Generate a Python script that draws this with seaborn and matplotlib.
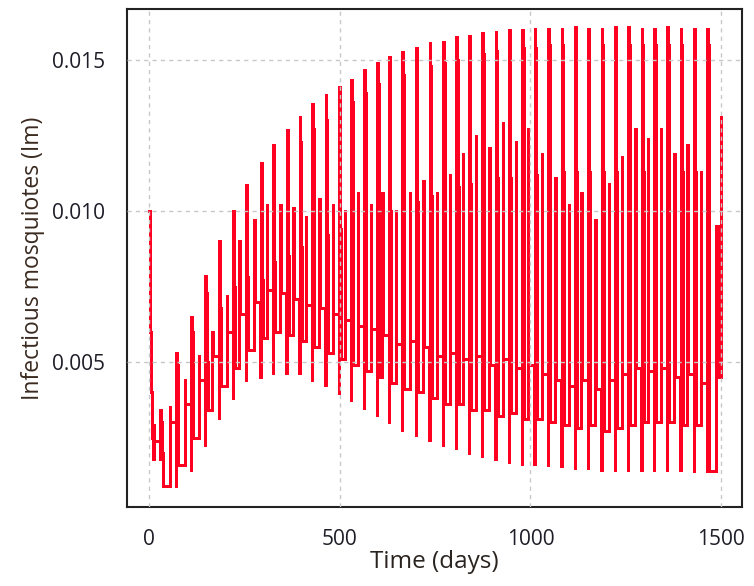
import numpy as np
import pandas as pd
import matplotlib
matplotlib.use("Agg")
import matplotlib.pyplot as plt
import seaborn as sns

# ---- data ----
# initial decay from Im(0)=0.010
start_day = [0, 2, 5, 8, 11]
start_val = [0.0100, 0.0060, 0.0040, 0.0025, 0.0018]

# one entry per oscillation cycle (day of the high peak)
cycle_day = [33, 74, 113, 151, 186, 223, 257, 296, 328, 364, 398, 431, 466, 501,
             533, 567, 601, 632, 667, 703, 739, 774, 809, 842, 877, 912, 947, 982,
             1014, 1050, 1085, 1120, 1154, 1190, 1225, 1260, 1295, 1328, 1362, 1397,
             1432, 1467]
# secondary (thin) peak just before each high peak
mid_peak = [0.0029, 0.0035, 0.0044, 0.0052, 0.0060, 0.0072, 0.0090, 0.0097, 0.0102,
            0.0102, 0.0101, 0.0098, 0.0104, 0.0102, 0.0100, 0.0106, 0.0102, 0.0106,
            0.0100, 0.0106, 0.0110, 0.0106, 0.0112, 0.0119, 0.0125, 0.0121, 0.0129,
            0.0123, 0.0127, 0.0119, 0.0111, 0.0102, 0.0106, 0.0097, 0.0109, 0.0118,
            0.0127, 0.0124, 0.0127, 0.0119, 0.0122, 0.0113]
# level after the secondary peak
dip = [0.0024, 0.0030, 0.0036, 0.0044, 0.0052, 0.0060, 0.0066, 0.0070, 0.0074, 0.0073,
       0.0071, 0.0069, 0.0068, 0.0066, 0.0064, 0.0062, 0.0061, 0.0059, 0.0056, 0.0057,
       0.0055, 0.0052, 0.0053, 0.0051, 0.0052, 0.0049, 0.0051, 0.0048, 0.0049, 0.0046,
       0.0044, 0.0042, 0.0044, 0.0041, 0.0044, 0.0046, 0.0048, 0.0047, 0.0048, 0.0045,
       0.0046, 0.0043]
# trough reached just before each high peak
trough = [0.0018, 0.0009, 0.00142, 0.00225, 0.00315, 0.0038, 0.0044, 0.0045, 0.00463,
          0.00463, 0.00463, 0.0044, 0.00424, 0.00396, 0.00374, 0.00347, 0.00325, 0.00302,
          0.00275, 0.00258, 0.00242, 0.00225, 0.00215, 0.00199, 0.00189, 0.00179, 0.0017,
          0.00164, 0.00164, 0.00159, 0.00155, 0.00149, 0.00149, 0.00142, 0.00142, 0.00142,
          0.00142, 0.00142, 0.00142, 0.00142, 0.0014, 0.0014]
peak = [0.0034, 0.0053, 0.0065, 0.00785, 0.0090, 0.0100, 0.01086, 0.01158, 0.01219,
        0.01268, 0.01310, 0.01353, 0.01384, 0.01412, 0.01434, 0.01467, 0.01491, 0.01509,
        0.01528, 0.01539, 0.01557, 0.01560, 0.01575, 0.01580, 0.01588, 0.01593, 0.01598,
        0.01600, 0.01603, 0.01603, 0.01603, 0.01610, 0.01603, 0.01603, 0.01610, 0.01610,
        0.01603, 0.01603, 0.01610, 0.01603, 0.01603, 0.01603]
peak_step = [0.0030, 0.0049, 0.0060, 0.0073, 0.0085, 0.0094, 0.0102, 0.0110, 0.0114,
             0.0118, 0.0123, 0.0127, 0.0130, 0.0133, 0.0136, 0.0139, 0.0142, 0.0143,
             0.0145, 0.0147, 0.0148, 0.0149, 0.0150, 0.0151, 0.0152, 0.0153, 0.0153,
             0.0154, 0.0154, 0.0155, 0.0155, 0.0155, 0.0155, 0.0155, 0.0155, 0.0155,
             0.0155, 0.0155, 0.0155, 0.0155, 0.0155, 0.0155]
fall = [0.0020, 0.0036, 0.0042, 0.0050, 0.0068, 0.0075, 0.0078, 0.0077, 0.0083, 0.0085,
        0.0088, 0.0090, 0.0092, 0.0094, 0.0095, 0.0097, 0.0098, 0.0100, 0.0101, 0.0103,
        0.0105, 0.0107, 0.0108, 0.0109, 0.0110, 0.0111, 0.0111, 0.0112, 0.0112, 0.0112,
        0.0113, 0.0113, 0.0113, 0.0113, 0.0113, 0.0113, 0.0113, 0.0113, 0.0113, 0.0113,
        0.0113, 0.0113]
# level the high peak falls to before the next secondary peak
after_fall = [0.0009, 0.0016, 0.0025, 0.0034, 0.0042, 0.0048, 0.0054, 0.0058, 0.0060,
              0.0059, 0.0057, 0.0055, 0.0053, 0.0051, 0.0049, 0.0047, 0.0045, 0.0043,
              0.0041, 0.0040, 0.0038, 0.0036, 0.0036, 0.0034, 0.0034, 0.0032, 0.0033,
              0.0031, 0.0031, 0.0030, 0.0029, 0.0028, 0.0029, 0.0027, 0.0028, 0.0029,
              0.0030, 0.0030, 0.0030, 0.0029, 0.0029, 0.0014]

# final rise at the end of the run
end_day = [1488, 1491, 1500]
end_val = [0.0095, 0.0045, 0.0131]

# ---- build the table (step positions inside one cycle, in days from the peak) ----
offsets = [-20.0, -19.0, -4.0, -3.2, -1.0, 0.8, 2.5]
days, vals = list(start_day), list(start_val)
for i, c in enumerate(cycle_day):
    seq = [mid_peak[i], dip[i], trough[i], peak[i], peak_step[i], fall[i], after_fall[i]]
    for off, v in zip(offsets, seq):
        days.append(c + off)
        vals.append(v)
days += end_day
vals += end_val
df = pd.DataFrame({"Time (days)": days, "Im": vals})

# ---- plot ----
sns.set_theme(style="white")
plt.rcParams["font.family"] = ["Open Sans", "DejaVu Sans"]

fig = plt.figure(figsize=(7.54, 5.86), dpi=100)
ax = fig.add_axes([127 / 754, 1 - 507 / 586, 615 / 754, 498 / 586])

sns.lineplot(data=df, x="Time (days)", y="Im", ax=ax, color="#ff0020",
             linewidth=2.1, drawstyle="steps-post", estimator=None, sort=False,
             antialiased=False, zorder=2)

ax.set_xlim(-58, 1555)
ax.set_ylim(0.0002, 0.01669)
ax.set_xticks([0, 500, 1000, 1500])
ax.set_yticks([0.005, 0.010, 0.015])
ax.set_yticklabels(["0.005", "0.010", "0.015"])

ax.set_axisbelow(False)
ax.grid(True, color="#c8c8c8", linestyle=(0, (3, 3)), linewidth=1.0)

for s in ax.spines.values():
    s.set_color("#222222")
    s.set_linewidth(1.5)

ax.tick_params(axis="both", which="major", direction="out", length=12,
               width=1.1, color="#333333", labelsize=15, labelcolor="#1e1e28")
ax.tick_params(axis="y", pad=4)
ax.tick_params(axis="x", pad=4)

ax.set_xlabel("Time (days)", fontsize=17.5, color="#2a2420", labelpad=0)
ax.set_ylabel("Infectious mosquiotes (Im)", fontsize=16.5, color="#3a2a20", labelpad=5)

fig.savefig("out.png", dpi=100)
